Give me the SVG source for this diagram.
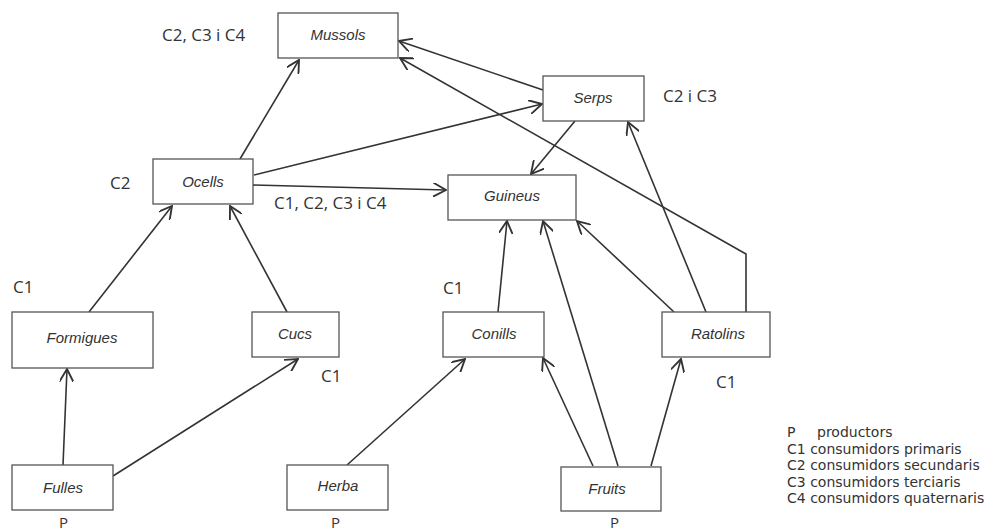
<svg xmlns="http://www.w3.org/2000/svg" width="1000" height="532" viewBox="0 0 1000 532">
<style>
.box{fill:#fff;stroke:#555;stroke-width:1.3}
.nt{font-family:"Liberation Sans",Arial,sans-serif;font-style:italic;font-size:15px;fill:#333;text-anchor:middle}
.lb{font-family:"Open Sans","DejaVu Sans",sans-serif;font-size:17px;fill:#333}
.pl{font-family:"Open Sans","DejaVu Sans",sans-serif;font-size:15px;fill:#333}
.lg{font-family:"DejaVu Sans","Open Sans",sans-serif;font-size:14px;fill:#333}
.c{fill:none;stroke:#333;stroke-width:1.6;marker-end:url(#ar)}
</style>
<defs>
<marker id="ar" markerUnits="userSpaceOnUse" markerWidth="14" markerHeight="14" refX="11" refY="6" orient="auto" viewBox="0 0 12 12">
<path d="M0,0 L11,6 L0,12" fill="none" stroke="#333" stroke-width="1.6"/>
</marker>
</defs>
<rect width="1000" height="532" fill="#fff"/>
<g id="connectors">
<line class="c" x1="240" y1="159" x2="299" y2="60"/>
<line class="c" x1="543" y1="90" x2="399" y2="41"/>
<polyline class="c" points="746,312 746,254 400,58"/>
<line class="c" x1="254" y1="175" x2="542" y2="104"/>
<line class="c" x1="253" y1="185" x2="446" y2="190"/>
<line class="c" x1="575" y1="121" x2="531" y2="174"/>
<line class="c" x1="89" y1="312" x2="172" y2="206"/>
<line class="c" x1="287" y1="312" x2="230" y2="206"/>
<line class="c" x1="63" y1="465" x2="67" y2="369"/>
<line class="c" x1="113" y1="476" x2="298" y2="359"/>
<line class="c" x1="347" y1="465" x2="465" y2="359"/>
<line class="c" x1="498" y1="312" x2="507" y2="221"/>
<line class="c" x1="618" y1="466" x2="543" y2="221"/>
<line class="c" x1="674" y1="312" x2="577" y2="221"/>
<line class="c" x1="706" y1="312" x2="628" y2="122"/>
<line class="c" x1="593" y1="466" x2="543" y2="358"/>
<line class="c" x1="651" y1="466" x2="681" y2="359"/>
</g>
<g id="mussols"><rect class="box" x="278" y="13" width="120" height="45"/><text class="nt" x="338" y="40">Mussols</text></g>
<g id="serps"><rect class="box" x="543" y="76" width="101" height="45"/><text class="nt" x="593" y="103">Serps</text></g>
<g id="ocells"><rect class="box" x="153" y="159" width="100" height="45"/><text class="nt" x="203" y="187">Ocells</text></g>
<g id="guineus"><rect class="box" x="448" y="175" width="128" height="45"/><text class="nt" x="512" y="201">Guineus</text></g>
<g id="formigues"><rect class="box" x="12" y="312" width="141" height="56"/><text class="nt" x="82" y="343">Formigues</text></g>
<g id="cucs"><rect class="box" x="252" y="312" width="87" height="45"/><text class="nt" x="295" y="339">Cucs</text></g>
<g id="conills"><rect class="box" x="443" y="312" width="101" height="45"/><text class="nt" x="494" y="339">Conills</text></g>
<g id="ratolins"><rect class="box" x="662" y="312" width="108" height="45"/><text class="nt" x="718" y="339">Ratolins</text></g>
<g id="fulles"><rect class="box" x="12" y="465" width="101" height="45"/><text class="nt" x="63" y="493">Fulles</text></g>
<g id="herba"><rect class="box" x="287" y="465" width="101" height="45"/><text class="nt" x="338" y="491">Herba</text></g>
<g id="fruits"><rect class="box" x="561" y="467" width="100" height="44"/><text class="nt" x="607" y="494">Fruits</text></g>
<g id="labels">
<text class="lb" x="162" y="41">C2, C3 i C4</text>
<text class="lb" x="663" y="102">C2 i C3</text>
<text class="lb" x="110" y="189">C2</text>
<text class="lb" x="274" y="209">C1, C2, C3 i C4</text>
<text class="lb" x="13" y="293">C1</text>
<text class="lb" x="321" y="382">C1</text>
<text class="lb" x="443" y="294">C1</text>
<text class="lb" x="716" y="388">C1</text>
<text class="pl" x="59" y="528">P</text>
<text class="pl" x="331" y="528">P</text>
<text class="pl" x="610" y="528">P</text>
</g>
<g id="legend">
<text class="lg" x="787" y="437">P</text><text class="lg" x="817" y="437">productors</text>
<text class="lg" x="787" y="453.5">C1 consumidors primaris</text>
<text class="lg" x="787" y="470">C2 consumidors secundaris</text>
<text class="lg" x="787" y="486.5">C3 consumidors terciaris</text>
<text class="lg" x="787" y="503">C4 consumidors quaternaris</text>
</g>
</svg>
